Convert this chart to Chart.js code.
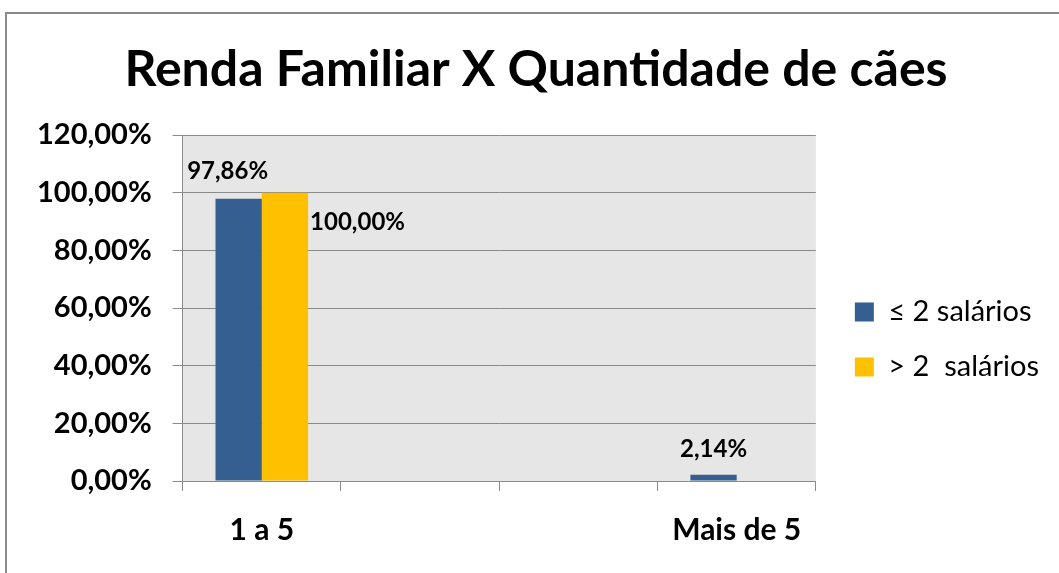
<!DOCTYPE html>
<html>
<head>
<meta charset="utf-8">
<script src="https://cdn.jsdelivr.net/npm/chart.js@4.4.1/dist/chart.umd.min.js"></script>
<style>
  body { margin: 0; background: #fff; }
  #wrap { position: relative; width: 1059px; height: 573px; }
</style>
</head>
<body>
<div id="wrap"><canvas id="chart" width="1059" height="573"></canvas></div>
<script>
// dados do gráfico
const categorias = ["1 a 5", "", "", "Mais de 5"];
const ateDoisSalarios = [97.86, null, null, 2.14];
const maisDoisSalarios = [100.00, null, null, 0];
const rotulosSeries = ["\u2264 2 salários", "> 2  salários"];

const fmt = v => v.toFixed(2).replace(".", ",") + "%";
const fonte = "Lato, 'Open Sans', sans-serif";

// moldura + fundo cinza da área do gráfico
const fundo = {
    id: "fundo",
    afterLayout(chart) {
        // pequeno ajuste horizontal da legenda e do título
        chart.legend.left += 13;
        chart.legend.right += 13;
        chart.titleBlock.left += 10;
        chart.titleBlock.right += 10;
    },
    beforeDraw(chart) {
        const c = chart.ctx, a = chart.chartArea;
        c.save();
        c.fillStyle = "#e6e6e6";
        c.fillRect(a.left, a.top, a.right - a.left, a.bottom - a.top);
        c.strokeStyle = "#8a8a8a";
        c.lineWidth = 2;
        c.beginPath();
        c.moveTo(6, chart.height);
        c.lineTo(6, 13);
        c.lineTo(chart.width, 13);
        c.stroke();
        c.restore();
    }
};

// rótulos de dados
const rotulos = {
    id: "rotulos",
    afterDatasetsDraw(chart) {
        const c = chart.ctx;
        c.save();
        c.font = "bold 24px " + fonte;
        c.fillStyle = "#000";
        c.textBaseline = "middle";
        chart.data.datasets.forEach((ds, i) => {
            chart.getDatasetMeta(i).data.forEach((bar, j) => {
                const v = ds.data[j];
                if (v === null || v === 0) return;
                if (i === 1) {
                    c.textAlign = "left";
                    c.fillText(fmt(v), bar.x + bar.width / 2 + 2, bar.y + 30);
                } else if (v > 50) {
                    c.textAlign = "center";
                    c.fillText(fmt(v), bar.x - 11, bar.y - 28);
                } else {
                    c.textAlign = "center";
                    c.fillText(fmt(v), bar.x, bar.y - 26);
                }
            });
        });
        c.restore();
    }
};

new Chart(document.getElementById("chart").getContext("2d"), {
    type: "bar",
    data: {
        labels: categorias,
        datasets: [{
            label: rotulosSeries[0],
            data: ateDoisSalarios,
            backgroundColor: "#365f91",
            barPercentage: 1,
            categoryPercentage: 0.585
        }, {
            label: rotulosSeries[1],
            data: maisDoisSalarios,
            backgroundColor: "#ffc000",
            barPercentage: 1,
            categoryPercentage: 0.585
        }]
    },
    options: {
        responsive: false,
        animation: false,
        layout: { padding: { left: 16, right: 23, top: 0, bottom: 4 } },
        plugins: {
            title: {
                display: true,
                text: "Renda Familiar X Quantidade de cães",
                color: "#000",
                font: { family: fonte, size: 50, weight: "bold" },
                padding: { top: 40, bottom: 35 }
            },
            legend: {
                position: "right",
                title: { display: true, text: "", font: { size: 10 }, padding: 49 },
                labels: {
                    color: "#000",
                    font: { family: fonte, size: 29 },
                    boxWidth: 19,
                    boxHeight: 19,
                    padding: 26
                }
            },
            tooltip: { enabled: false }
        },
        scales: {
            x: {
                grid: {
                    offset: true,
                    drawOnChartArea: false,
                    color: "#8a8a8a",
                    tickLength: 10
                },
                border: { color: "#8a8a8a" },
                ticks: {
                    color: "#000",
                    font: { family: fonte, size: 30, weight: "bold" },
                    padding: 21
                }
            },
            y: {
                min: 0,
                max: 120,
                ticks: {
                    stepSize: 20,
                    color: "#000",
                    font: { family: fonte, size: 29, weight: "bold" },
                    padding: 21,
                    callback: v => fmt(v)
                },
                grid: { color: "#8a8a8a", tickLength: 10 },
                border: { color: "#8a8a8a" }
            }
        }
    },
    plugins: [fundo, rotulos]
});
</script>
</body>
</html>
